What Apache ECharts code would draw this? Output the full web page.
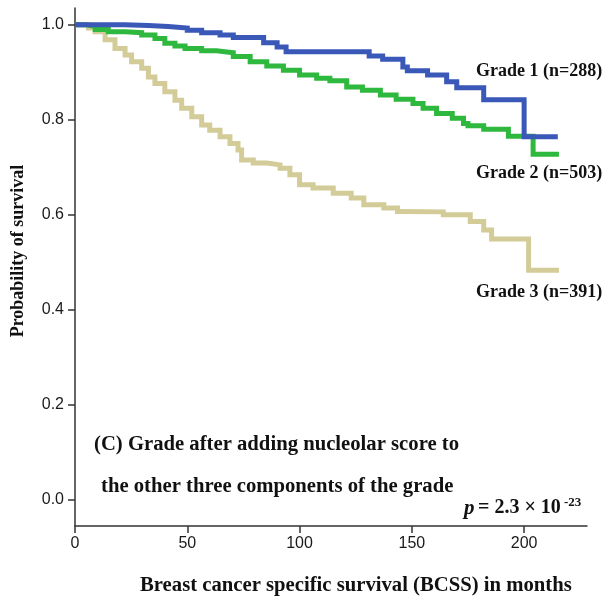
<!DOCTYPE html>
<html>
<head>
<meta charset="utf-8">
<script src="https://cdn.jsdelivr.net/npm/echarts@6/dist/echarts.min.js"></script>
<style>html,body{margin:0;padding:0;background:#fff;}#c{width:606px;height:601px;}</style>
</head>
<body>
<div id="c"></div>
<script>
// Kaplan-Meier curves: time (months) at which survival becomes the given value
const grade1Time = [0, 22, 32.7, 41.5, 50, 56.4, 64.6, 70.5, 84, 90, 94, 131, 137, 146, 148, 157, 165.5, 170, 182, 200, 215];
const grade1Surv = [1.0, 0.998, 0.996, 0.993, 0.988, 0.983, 0.978, 0.973, 0.962, 0.953, 0.943, 0.934, 0.927, 0.911, 0.903, 0.894, 0.880, 0.867, 0.842, 0.764, 0.764];

const grade2Time = [0, 4.5, 9, 14.8, 22.3, 29.7, 35.6, 40, 44.5, 49, 56.4, 63, 70.5, 78, 85.4, 92.8, 100, 107.6, 113.5, 121, 128, 136, 143, 150.5, 155, 161, 168, 173, 175, 182, 193, 204, 215.5];
const grade2Surv = [1.0, 0.996, 0.990, 0.985, 0.983, 0.978, 0.971, 0.961, 0.955, 0.950, 0.945, 0.941, 0.933, 0.922, 0.913, 0.904, 0.894, 0.887, 0.882, 0.869, 0.862, 0.852, 0.843, 0.834, 0.824, 0.813, 0.803, 0.792, 0.787, 0.780, 0.765, 0.727, 0.727];

const grade3Time = [0, 6, 8.9, 13.4, 17.8, 22.3, 25.2, 29.7, 32.7, 35.6, 40, 44.5, 47.5, 52, 56.4, 60, 64.6, 69, 72.6, 74.2, 79.4, 85.4, 91.3, 95.7, 100, 106, 115, 123, 128.6, 137.5, 143.6, 145, 164, 176, 182, 185.5, 202, 215.5];
const grade3Surv = [1.0, 0.993, 0.985, 0.968, 0.950, 0.936, 0.922, 0.908, 0.890, 0.876, 0.859, 0.841, 0.824, 0.806, 0.789, 0.778, 0.764, 0.750, 0.736, 0.715, 0.709, 0.705, 0.698, 0.684, 0.663, 0.656, 0.645, 0.635, 0.621, 0.614, 0.607, 0.606, 0.600, 0.586, 0.568, 0.549, 0.483, 0.483];

const xTicks = [0, 50, 100, 150, 200];
const yTicks = [0, 0.2, 0.4, 0.6, 0.8, 1.0];
const seriesNames = ['Grade 1 (n=288)', 'Grade 2 (n=503)', 'Grade 3 (n=391)'];

function pairs(t, s) { return t.map((v, i) => [v, s[i]]); }

const serif = '"Liberation Serif", "Times New Roman", serif';
const sans = '"Liberation Sans", Arial, sans-serif';

const chart = echarts.init(document.getElementById('c'), null, { renderer: 'canvas' });
const lineSeries = (name, data, color) => ({
  name, type: 'line', step: 'end', data, symbol: 'none',
  lineStyle: { color, width: 5, cap: 'butt', join: 'miter' },
  itemStyle: { color }, animation: false, z: 3
});

chart.setOption({
  animation: false,
  backgroundColor: '#ffffff',
  grid: { left: 75, right: 19, top: 8, bottom: 75 },
  xAxis: {
    type: 'value', min: 0, max: 228,
    axisLine: { show: true, onZero: false, lineStyle: { color: '#333', width: 1.5 } },
    axisTick: { show: true, length: 7, customValues: xTicks, lineStyle: { color: '#333', width: 1.5 } },
    axisLabel: { customValues: xTicks, margin: 10, color: '#1a1a1a', fontFamily: sans, fontSize: 16 },
    splitLine: { show: false }
  },
  yAxis: {
    type: 'value', min: -0.055, max: 1.035,
    axisLine: { show: true, onZero: false, lineStyle: { color: '#333', width: 1.5 } },
    axisTick: { show: true, length: 7, customValues: yTicks, lineStyle: { color: '#333', width: 1.5 } },
    axisLabel: { customValues: yTicks, margin: 11, color: '#1a1a1a', fontFamily: sans, fontSize: 16,
      formatter: v => v.toFixed(1) },
    splitLine: { show: false }
  },
  series: [
    lineSeries(seriesNames[2], pairs(grade3Time, grade3Surv), '#d4cc98'),
    lineSeries(seriesNames[1], pairs(grade2Time, grade2Surv), '#2fb83e'),
    lineSeries(seriesNames[0], pairs(grade1Time, grade1Surv), '#3a58b8')
  ],
  graphic: [
    { type: 'text', left: 476, top: 62, style: { text: seriesNames[0], font: 'bold 18px ' + serif, fill: '#111' } },
    { type: 'text', left: 476, top: 164, style: { text: seriesNames[1], font: 'bold 18px ' + serif, fill: '#111' } },
    { type: 'text', left: 476, top: 283, style: { text: seriesNames[2], font: 'bold 18px ' + serif, fill: '#111' } },
    { type: 'text', left: 94, top: 434, style: { text: '(C) Grade after adding nucleolar score to', font: 'bold 20.7px ' + serif, fill: '#111' } },
    { type: 'text', left: 101, top: 476, style: { text: 'the other three components of the grade', font: 'bold 20.7px ' + serif, fill: '#111' } },
    { type: 'text', left: 464, top: 498, style: { text: 'p', font: 'italic bold 21px ' + serif, fill: '#111' } },
    { type: 'text', left: 478, top: 498, style: { text: '= 2.3 × 10', font: 'bold 20px ' + serif, fill: '#111' } },
    { type: 'text', left: 564, top: 496, style: { text: '-23', font: 'bold 13px ' + serif, fill: '#111' } },
    { type: 'text', x: 18, y: 251, rotation: Math.PI / 2,
      style: { text: 'Probability of survival', font: 'bold 18px ' + serif, fill: '#111', align: 'center', verticalAlign: 'middle' } },
    { type: 'text', left: 140, top: 575, style: { text: 'Breast cancer specific survival (BCSS) in months', font: 'bold 20.7px ' + serif, fill: '#111' } }
  ]
});
</script>
</body>
</html>
